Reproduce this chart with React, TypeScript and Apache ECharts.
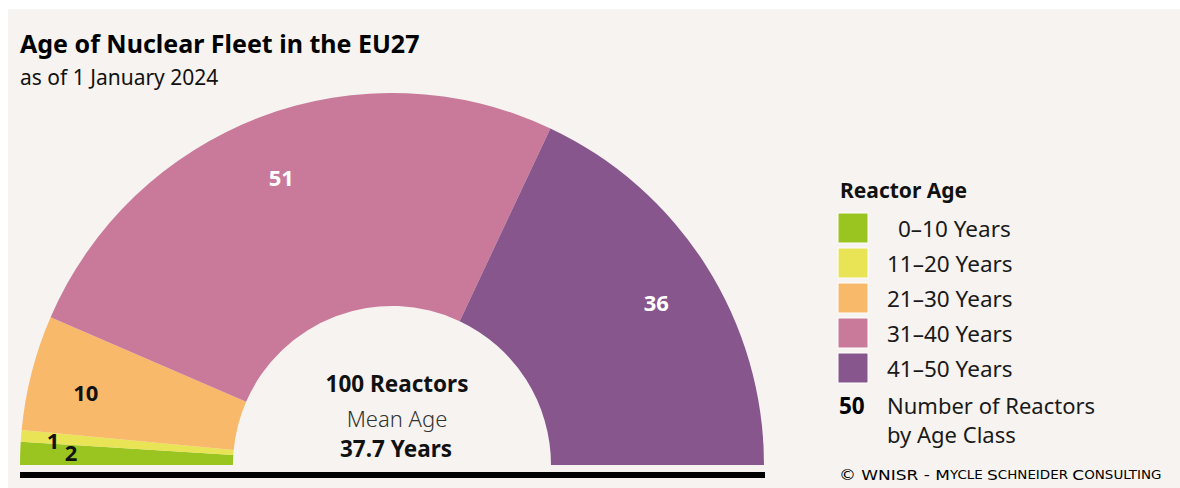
import React, { useEffect, useRef } from "react";
import * as echarts from "echarts";

const categories = ["0–10 Years", "11–20 Years", "21–30 Years", "31–40 Years", "41–50 Years"];
const reactorCounts = [2, 1, 10, 51, 36];
const sliceColors = ["#9ac420", "#e8e455", "#f9b96a", "#c97a9b", "#87568d"];
const labelColors = ["#111111", "#111111", "#111111", "#ffffff", "#ffffff"];
// small nudges for the slice labels: right padding (px) and vertical shift (px, + = down)
const labelPadRight = [16, 54, 6, 0, 0];
const labelShiftY = [-3, 0, 5, 5, 5];

const titleText = "Age of Nuclear Fleet in the EU27";
const subtitleText = "as of 1 January 2024";
const legendTitle = "Reactor Age";
const totalLabel = "100 Reactors";
const meanAgeLabel = "Mean Age";
const meanAgeValue = "37.7 Years";
const numberKey = "50";
const numberKeyText = ["Number of Reactors", "by Age Class"];

const FONT = "'Noto Sans', sans-serif";
const BG = "#f6f3f0";

export default function App() {
  const ref = useRef<HTMLDivElement>(null);

  useEffect(() => {
    if (!ref.current) return;
    const chart = echarts.init(ref.current, null, { renderer: "svg" });

    const cx = 392;
    const cy = 465;

    const data = categories.map((name, i) => ({
      name,
      value: reactorCounts[i],
      itemStyle: { color: sliceColors[i] },
    }));

    const labelData = categories.map((name, i) => {
      const s = labelShiftY[i];
      const fmt = s > 0 ? "{e| }\n{v|{c}}" : s < 0 ? "{v|{c}}\n{e| }" : "{v|{c}}";
      return {
        name,
        value: reactorCounts[i],
        label: {
          formatter: fmt,
          padding: [0, labelPadRight[i], 0, 0],
          rich: {
            v: {
              color: labelColors[i],
              fontFamily: FONT,
              fontWeight: 700,
              fontSize: 22,
              lineHeight: 26,
            },
            e: { fontSize: 1, lineHeight: Math.abs(s) * 2 },
          },
        },
      };
    });

    const legendGraphics: any[] = [];
    categories.forEach((name, i) => {
      const top = 213 + i * 35;
      legendGraphics.push({
        type: "rect",
        shape: { x: 838, y: top, width: 30, height: 30 },
        style: { fill: sliceColors[i], stroke: "#ffffff", lineWidth: 1, opacity: 1 },
        silent: true,
      });
      const single = /^\d–/.test(name);
      legendGraphics.push({
        type: "text",
        x: single ? 898 : 887,
        y: top + 15,
        style: {
          text: name,
          fill: "#1a1a1a",
          font: `400 22.5px ${FONT}`,
          verticalAlign: "middle",
          align: "left",
        },
        silent: true,
      });
    });

    chart.setOption({
      animation: false,
      backgroundColor: "#ffffff",
      graphic: [
        {
          type: "rect",
          z: -10,
          shape: { x: 8, y: 9, width: 1180, height: 490 },
          style: { fill: BG },
          silent: true,
        },
        {
          type: "text",
          x: 20,
          y: 43,
          style: { text: titleText, fill: "#000", font: `700 25px ${FONT}`, verticalAlign: "middle" },
        },
        {
          type: "text",
          x: 20,
          y: 77,
          style: { text: subtitleText, fill: "#111", font: `400 21px ${FONT}`, verticalAlign: "middle" },
        },
        {
          type: "rect",
          shape: { x: 20, y: 472, width: 745, height: 6 },
          style: { fill: "#000" },
          silent: true,
        },
        {
          type: "text",
          x: 397,
          y: 383,
          style: { text: totalLabel, fill: "#111", font: `700 22.5px ${FONT}`, align: "center", verticalAlign: "middle" },
        },
        {
          type: "text",
          x: 397,
          y: 418,
          style: { text: meanAgeLabel, fill: "#333", font: `300 22px ${FONT}`, align: "center", verticalAlign: "middle" },
        },
        {
          type: "text",
          x: 396,
          y: 448,
          style: { text: meanAgeValue, fill: "#111", font: `700 22.5px ${FONT}`, align: "center", verticalAlign: "middle" },
        },
        {
          type: "text",
          x: 840,
          y: 190,
          style: { text: legendTitle, fill: "#111", font: `700 21px ${FONT}`, verticalAlign: "middle" },
        },
        ...legendGraphics,
        {
          type: "text",
          x: 839,
          y: 405,
          style: { text: numberKey, fill: "#000", font: `700 22.5px ${FONT}`, verticalAlign: "middle" },
        },
        {
          type: "text",
          x: 887,
          y: 405,
          style: { text: numberKeyText[0], fill: "#1a1a1a", font: `400 22px ${FONT}`, verticalAlign: "middle" },
        },
        {
          type: "text",
          x: 887,
          y: 434,
          style: { text: numberKeyText[1], fill: "#1a1a1a", font: `400 22px ${FONT}`, verticalAlign: "middle" },
        },
        {
          type: "text",
          x: 839,
          y: 475,
          scaleX: 1.17,
          style: {
            text: "{b|© WNISR - M}{s|YCLE }{b|S}{s|CHNEIDER }{b|C}{s|ONSULTING}",
            verticalAlign: "middle",
            rich: {
              b: { fontSize: 14.5, fontFamily: "'DejaVu Sans', sans-serif", color: "#b9a67e" },
              s: { fontSize: 11.5, fontFamily: "'DejaVu Sans', sans-serif", color: "#b9a67e" },
            },
          },
        },
      ],
      series: [
        {
          type: "pie",
          center: [cx, cy],
          radius: [159, 372],
          startAngle: 180,
          endAngle: 0,
          clockwise: true,
          silent: true,
          label: { show: false },
          labelLine: { show: false },
          data,
        },
        {
          type: "pie",
          center: [cx, cy],
          radius: [248, 372],
          startAngle: 180,
          endAngle: 0,
          clockwise: true,
          silent: true,
          avoidLabelOverlap: false,
          itemStyle: { color: "rgba(0,0,0,0)" },
          label: {
            show: true,
            position: "inside",
            fontFamily: FONT,
            fontWeight: 700,
            fontSize: 22,
          },
          labelLine: { show: false },
          data: labelData,
        },
      ],
    });

    return () => chart.dispose();
  }, []);

  return (
    <div
      ref={ref}
      style={{ position: "fixed", left: 0, top: 0, width: 1180, height: 488 }}
    />
  );
}
